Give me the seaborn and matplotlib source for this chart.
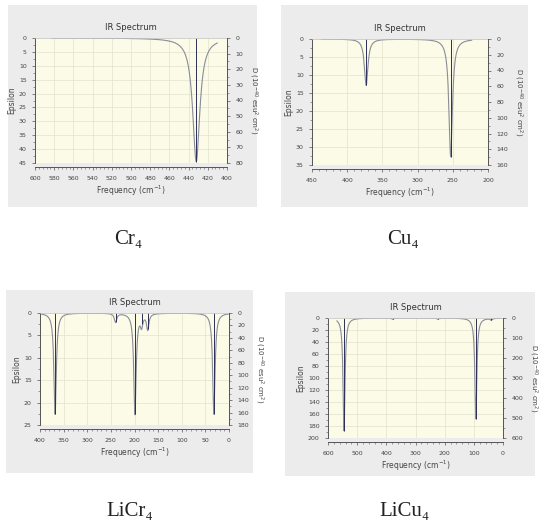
import numpy as np
import pandas as pd
import seaborn as sns
import matplotlib.pyplot as plt
from matplotlib.ticker import MultipleLocator, AutoMinorLocator

# peak positions (cm-1) and heights (epsilon)
cr4_freq = [432]
cr4_eps = [44.5]

cu4_freq = [373, 253]
cu4_eps = [12.9, 32.7]

licr4_freq = [368, 240, 199, 185, 172, 32]
licr4_eps = [22.6, 2.0, 22.6, 2.5, 3.5, 22.6]

licu4_freq = [545, 378, 223, 93, 40]
licu4_eps = [188, 2, 2, 168, 3]

names = ['Cr₄', 'Cu₄', 'LiCr₄', 'LiCu₄']

sns.set_theme(style='white')
plt.rcParams['font.family'] = ['DejaVu Sans']

W, H = 541, 528
fig = plt.figure(figsize=(W / 100, H / 100), dpi=100)
fig.patch.set_facecolor('white')


def px_rect(x0, y0, x1, y1):
    return [x0 / W, 1 - y1 / H, (x1 - x0) / W, (y1 - y0) / H]


def spectrum(freq, eps, hwhm, lo, hi):
    # lorentzian broadening of the stick spectrum, like GaussView does
    x = np.linspace(lo, hi, 1200)
    y = np.zeros_like(x)
    for f, e in zip(freq, eps):
        y += e * hwhm ** 2 / ((x - f) ** 2 + hwhm ** 2)
    return pd.DataFrame({'Frequency': x, 'Epsilon': y})


def panel(box, area, freq, eps, hwhm, span, xlim, xstep, ymax, ystep, rmax, rstep, name, name_xy):
    bg = fig.add_axes(px_rect(*box), zorder=-1)
    bg.set_facecolor('#ececec')
    bg.set_xticks([])
    bg.set_yticks([])
    for s in bg.spines.values():
        s.set_visible(False)

    ax = fig.add_axes(px_rect(*area))
    ax.set_facecolor('#fbfbe8')
    df = spectrum(freq, eps, hwhm, span[0], span[1])
    sns.lineplot(data=df, x='Frequency', y='Epsilon', ax=ax, color='#8a8c98',
                 linewidth=0.8)
    ax.vlines(freq, 0, eps, color='#2b2f58', linewidth=0.7)
    ax.set_xlim(*xlim)
    ax.set_ylim(ymax, 0)
    ax.xaxis.set_major_locator(MultipleLocator(xstep))
    ax.xaxis.set_minor_locator(AutoMinorLocator(5))
    ax.yaxis.set_major_locator(MultipleLocator(ystep))
    ax.yaxis.set_minor_locator(AutoMinorLocator(2))
    ax.grid(True, color='#e2e2cc', linewidth=0.5)
    for s in ['top', 'right']:
        ax.spines[s].set_color('#c8c8c8')
        ax.spines[s].set_linewidth(0.5)
    ax.spines['left'].set_color('#555555')
    ax.spines['bottom'].set_color('#555555')
    ax.spines['left'].set_linewidth(0.7)
    ax.spines['bottom'].set_linewidth(0.7)
    ax.spines['bottom'].set_position(('outward', 3))
    ax.tick_params(axis='both', which='both', direction='out', colors='#555555',
                   labelcolor='#444444', labelsize=4.5, bottom=True, left=True)
    ax.tick_params(axis='both', which='major', length=2.5, width=0.5)
    ax.tick_params(axis='both', which='minor', length=1.5, width=0.4)
    ax.tick_params(axis='x', pad=4)
    ax.set_xlabel('Frequency (cm$^{-1}$)', fontsize=5.5, color='#444444', labelpad=2)
    ax.set_ylabel('Epsilon', fontsize=5.5, color='#444444', labelpad=2)
    ax.set_title('IR Spectrum', fontsize=6, color='#333333', pad=6)

    ax2 = ax.twinx()
    ax2.set_ylim(rmax, 0)
    ax2.yaxis.set_major_locator(MultipleLocator(rstep))
    ax2.yaxis.set_minor_locator(AutoMinorLocator(2))
    for s in ['top', 'left', 'bottom']:
        ax2.spines[s].set_visible(False)
    ax2.spines['right'].set_color('#555555')
    ax2.spines['right'].set_linewidth(0.7)
    ax2.tick_params(axis='y', which='both', direction='out', colors='#555555',
                    labelcolor='#444444', labelsize=4.5, right=True)
    ax2.tick_params(axis='y', which='major', length=2.5, width=0.5)
    ax2.tick_params(axis='y', which='minor', length=1.5, width=0.4)
    ax2.grid(False)
    ax2.set_ylabel('D (10$^{-40}$ esu$^2$ cm$^2$)', fontsize=5, color='#444444',
                   rotation=270, va='bottom', labelpad=3)

    fig.text(name_xy[0] / W, 1 - name_xy[1] / H, name, ha='center', va='center',
             fontsize=15, color='#222222',
             family=['Liberation Serif', 'DejaVu Serif'])


panel((8, 5, 257, 207), (35, 38, 227, 163), cr4_freq, cr4_eps, 4.5, (583, 410),
      (600, 400), 20, 45, 5, 80, 10, names[0], (128, 240))
panel((281, 5, 528, 207), (312, 39, 488, 165), cu4_freq, cu4_eps, 3.0, (437, 223),
      (450, 200), 50, 35, 5, 160, 20, names[1], (403, 240))
panel((6, 290, 253, 473), (40, 313, 229, 425), licr4_freq, licr4_eps, 3.0, (400, 0),
      (400, 0), 50, 25, 5, 180, 20, names[2], (130, 512))
panel((285, 292, 535, 476), (328, 318, 503, 438), licu4_freq, licu4_eps, 4.0, (570, 5),
      (600, 0), 100, 200, 20, 600, 100, names[3], (405, 512))

plt.savefig('out.png', dpi=100)
